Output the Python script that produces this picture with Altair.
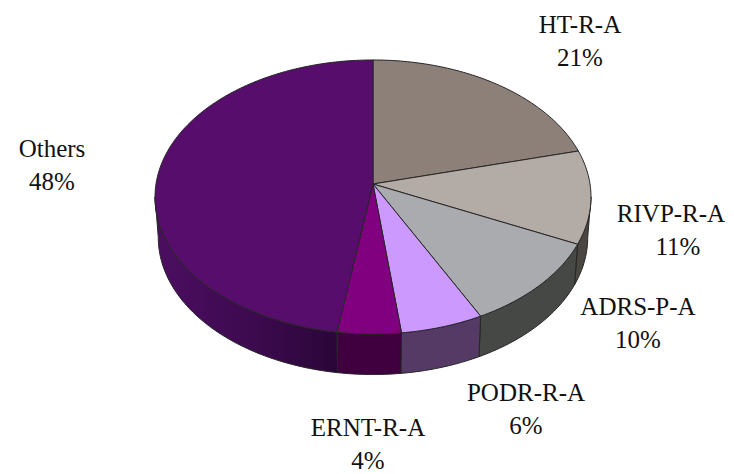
import math
import altair as alt
import pandas as pd

# ---- data (clockwise from 12 o'clock) ----
categories = ["HT-R-A", "RIVP-R-A", "ADRS-P-A", "PODR-R-A", "ERNT-R-A", "Others"]
shares = [21.0, 11.0, 10.5, 5.6, 4.3, 47.6]      # slice sizes as drawn
labels = ["21%", "11%", "10%", "6%", "4%", "48%"]  # printed labels

# ---- styling ----
top_colors = ["#8c8079", "#b3aba5", "#a9abaf", "#cc99ff", "#800080", "#560d6b"]
wall_colors = ["#45403c", "#4a4642", "#454845", "#553a66", "#400040", None]
others_wall = alt.Gradient(
    gradient="linear", x1=0, x2=1, y1=0, y2=0,
    stops=[alt.GradientStop(offset=0, color="#4c0e62"),
           alt.GradientStop(offset=0.5, color="#3e0a50"),
           alt.GradientStop(offset=1, color="#2a0638")],
)
EDGE = "#262626"
FONT = "Liberation Serif"
FONT_SIZE = 25

# ---- layout: perspective disc ----
W, H = 718, 466
CX, CY = 365, 176
A, B, K = 217.0, 135.8, 0.0949
DEPTH = 40.5
SHRINK = 0.985
# (name x, name y, percent x)
label_layout = {
    "HT-R-A": (572, 17, 572), "RIVP-R-A": (663, 206, 670), "ADRS-P-A": (630, 299, 630),
    "PODR-R-A": (518, 385, 518), "ERNT-R-A": (360, 420, 360), "Others": (44, 141, 44),
}
LINE_HEIGHT = 33


def rim(pct, lower=False):
    t = math.radians(pct * 3.6)
    u, v = math.sin(t), math.cos(t)
    den = 1 + K * v
    x, y = A * u / den, -B * v / den
    if lower:
        return CX + SHRINK * x, CY + y + DEPTH
    return CX + x, CY + y


def arc(p0, p1, lower=False):
    n = max(2, int(abs(p1 - p0) * 3.6) + 1)
    return [rim(p0 + (p1 - p0) * i / n, lower) for i in range(n + 1)]


x_scale = alt.Scale(domain=[0, W], range=[0, W], nice=False, zero=False)
y_scale = alt.Scale(domain=[0, H], range=[0, H], nice=False, zero=False)


def polygon(points, fill, width=1.0):
    df = pd.DataFrame(points, columns=["x", "y"]).reset_index(names="i")
    return alt.Chart(df).mark_line(
        fill=fill, stroke=EDGE, strokeWidth=width, interpolate="linear-closed",
        strokeJoin="round",
    ).encode(
        x=alt.X("x:Q", scale=x_scale, axis=None),
        y=alt.Y("y:Q", scale=y_scale, axis=None),
        order=alt.Order("i:Q"),
    )


edges = [0.0]
for s in shares:
    edges.append(edges[-1] + s)

layers = []
FRONT_START, FRONT_END = 26.5, 73.5
wall_order = [0, 1, 5, 2, 4, 3]
for i in wall_order:
    p0, p1 = max(edges[i], FRONT_START), min(edges[i + 1], FRONT_END)
    if p1 <= p0:
        continue
    pts = arc(p0, p1) + arc(p1, p0, lower=True)
    layers.append(polygon(pts, wall_colors[i] or others_wall))

for i, c in enumerate(top_colors):
    pts = [(CX, CY)] + arc(edges[i], edges[i + 1])
    layers.append(polygon(pts, c))

for cat, lab in zip(categories, labels):
    lx, ly, px = label_layout[cat]
    df = pd.DataFrame({"cat": [cat], "lab": [lab]})
    layers.append(alt.Chart(df).mark_text(
        x=lx, y=ly, font=FONT, fontSize=FONT_SIZE, color="#111111", align="center", baseline="middle",
    ).encode(text="cat:N"))
    layers.append(alt.Chart(df).mark_text(
        x=px, y=ly + LINE_HEIGHT, font=FONT, fontSize=FONT_SIZE, color="#111111", align="center", baseline="middle",
    ).encode(text="lab:N"))

chart = alt.layer(*layers).properties(
    width=W, height=H, padding=0, autosize=alt.AutoSizeParams(type="none"),
).configure_view(stroke=None)

chart.save("out.html", embed_options={"renderer": "svg", "actions": False})
